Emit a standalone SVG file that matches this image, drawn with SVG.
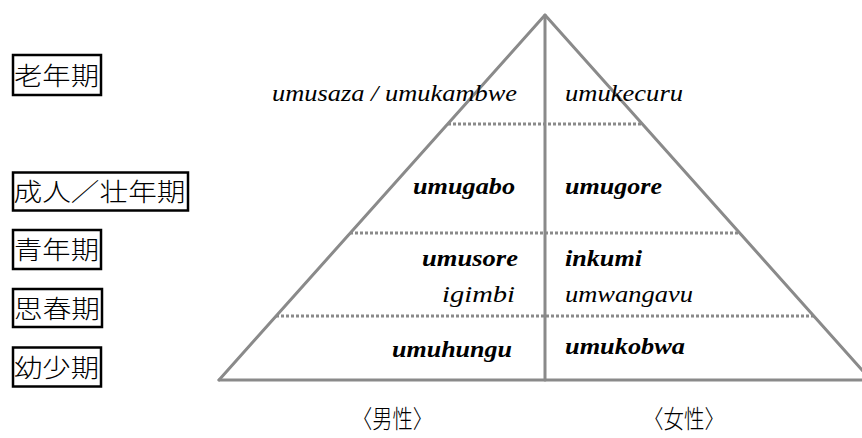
<svg xmlns="http://www.w3.org/2000/svg" width="862" height="438" viewBox="0 0 862 438">
<style>
.solid{stroke:#8a8a8a;stroke-width:3;fill:none;stroke-linecap:round;stroke-linejoin:round}
.dash{stroke:#8a8a8a;stroke-width:3;fill:none;stroke-dasharray:3 2}
.box{fill:#fff;stroke:#000;stroke-width:2.5}
.jp{font-family:'Noto Sans CJK JP','Noto Sans CJK SC',sans-serif;font-size:25px;font-weight:300;fill:#000}
.lat{font-family:'Liberation Serif',serif;font-style:italic;font-size:23px;fill:#000}
.b{font-weight:bold}
</style>
<rect width="862" height="438" fill="#fff"/>
<g id="connectors">
<polyline class="solid" points="219,380 545,15 871,380"/>
<line class="solid" x1="219" y1="380" x2="871" y2="380"/>
<line class="solid" x1="545" y1="15" x2="545" y2="380"/>
<line class="dash" x1="448" y1="124" x2="642" y2="124"/>
<line class="dash" x1="350" y1="233" x2="740" y2="233"/>
<line class="dash" x1="276" y1="316" x2="814" y2="316"/>
</g>
<g id="label-old">
<rect class="box" x="13" y="55" width="88" height="40"/>
<text class="jp" x="14" y="84.5" textLength="85" lengthAdjust="spacingAndGlyphs">老年期</text>
</g>
<g id="label-adult">
<rect class="box" x="13" y="172.5" width="175" height="38"/>
<text class="jp" x="13.5" y="201" textLength="172" lengthAdjust="spacingAndGlyphs">成人／壮年期</text>
</g>
<g id="label-youth">
<rect class="box" x="13" y="230" width="88" height="39"/>
<text class="jp" x="14" y="259" textLength="85" lengthAdjust="spacingAndGlyphs">青年期</text>
</g>
<g id="label-puberty">
<rect class="box" x="13" y="289" width="89" height="38"/>
<text class="jp" x="14" y="317.5" textLength="86" lengthAdjust="spacingAndGlyphs">思春期</text>
</g>
<g id="label-child">
<rect class="box" x="13" y="347.5" width="88" height="39"/>
<text class="jp" x="14" y="376.5" textLength="85" lengthAdjust="spacingAndGlyphs">幼少期</text>
</g>
<g id="terms-old">
<text class="lat" x="272" y="101" textLength="245" lengthAdjust="spacingAndGlyphs">umusaza / umukambwe</text>
<text class="lat" x="565" y="101" textLength="118" lengthAdjust="spacingAndGlyphs">umukecuru</text>
</g>
<g id="terms-adult">
<text class="lat b" x="413" y="194" textLength="102" lengthAdjust="spacingAndGlyphs">umugabo</text>
<text class="lat b" x="565" y="194" textLength="97" lengthAdjust="spacingAndGlyphs">umugore</text>
</g>
<g id="terms-youth">
<text class="lat b" x="422" y="266" textLength="96" lengthAdjust="spacingAndGlyphs">umusore</text>
<text class="lat b" x="565" y="266" textLength="77" lengthAdjust="spacingAndGlyphs">inkumi</text>
</g>
<g id="terms-puberty">
<text class="lat" x="442" y="302" textLength="73" lengthAdjust="spacingAndGlyphs">igimbi</text>
<text class="lat" x="565" y="302" textLength="128" lengthAdjust="spacingAndGlyphs">umwangavu</text>
</g>
<g id="terms-child">
<text class="lat b" x="392" y="357" textLength="120" lengthAdjust="spacingAndGlyphs">umuhungu</text>
<text class="lat b" x="565" y="354" textLength="120" lengthAdjust="spacingAndGlyphs">umukobwa</text>
</g>
<g id="gender-male">
<text class="jp" x="352" y="428" textLength="81" lengthAdjust="spacingAndGlyphs">〈男性〉</text>
</g>
<g id="gender-female">
<text class="jp" x="643" y="428" textLength="82" lengthAdjust="spacingAndGlyphs">〈女性〉</text>
</g>
</svg>
